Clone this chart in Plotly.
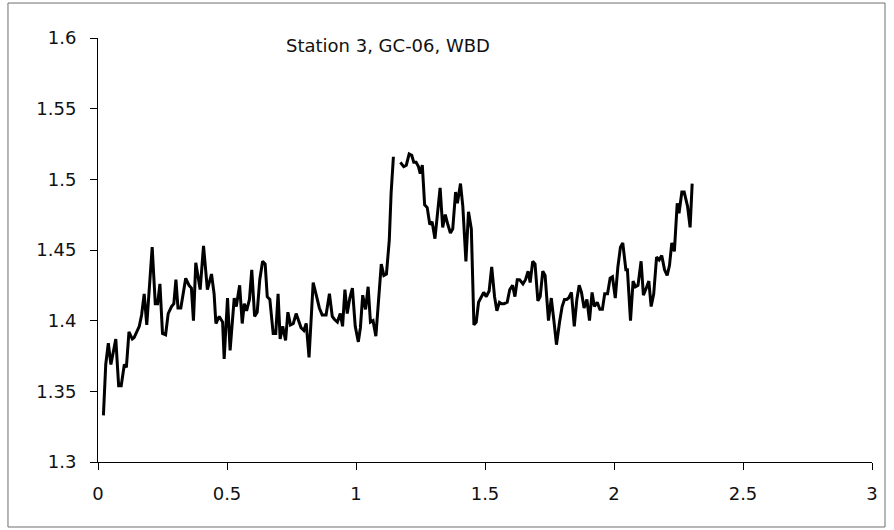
import plotly.graph_objects as go

# Station 3, core GC-06: wet bulk density profile
depth = [
    0.021, 0.030, 0.040, 0.050, 0.069, 0.080, 0.090, 0.102, 0.110, 0.120,
    0.133, 0.140, 0.160, 0.169, 0.179, 0.189, 0.210, 0.222, 0.231, 0.240,
    0.250, 0.262, 0.272, 0.285, 0.294, 0.302, 0.310, 0.321, 0.340, 0.353,
    0.362, 0.370, 0.379, 0.396, 0.409, 0.424, 0.440, 0.450, 0.457, 0.470,
    0.483, 0.489, 0.502, 0.512, 0.528, 0.536, 0.549, 0.559, 0.567, 0.576,
    0.587, 0.596, 0.607, 0.617, 0.627, 0.638, 0.648, 0.656, 0.666, 0.679,
    0.689, 0.698, 0.706, 0.716, 0.727, 0.736, 0.746, 0.757, 0.768, 0.778,
    0.787, 0.798, 0.807, 0.818, 0.834, 0.846, 0.858, 0.869, 0.884, 0.897,
    0.908, 0.916, 0.928, 0.939, 0.948, 0.957, 0.966, 0.976, 0.986, 0.997,
    1.009, 1.017, 1.026, 1.037, 1.047, 1.056, 1.066, 1.077, 1.087, 1.098,
    1.108, 1.118, 1.129, 1.136, 1.145, 1.158, 1.172, 1.185, 1.195, 1.206,
    1.216, 1.224, 1.233, 1.242, 1.249, 1.257, 1.266, 1.276, 1.286, 1.295,
    1.306, 1.315, 1.326, 1.336, 1.346, 1.356, 1.366, 1.375, 1.386, 1.393,
    1.405, 1.414, 1.426, 1.436, 1.447, 1.457, 1.466, 1.475, 1.485, 1.495,
    1.505, 1.516, 1.526, 1.537, 1.546, 1.556, 1.564, 1.574, 1.586, 1.596,
    1.607, 1.616, 1.625, 1.634, 1.647, 1.657, 1.667, 1.675, 1.685, 1.694,
    1.705, 1.714, 1.724, 1.733, 1.746, 1.757, 1.767, 1.777, 1.789, 1.799,
    1.808, 1.817, 1.824, 1.835, 1.846, 1.856, 1.865, 1.874, 1.884, 1.895,
    1.905, 1.915, 1.924, 1.935, 1.945, 1.955, 1.964, 1.975, 1.985, 1.994,
    2.005, 2.015, 2.025, 2.034, 2.046, 2.052, 2.064, 2.074, 2.083, 2.093,
    2.105, 2.114, 2.125, 2.135, 2.144, 2.154, 2.165, 2.175, 2.185, 2.196,
    2.206, 2.215, 2.224, 2.234, 2.245, 2.252, 2.263, 2.272, 2.285, 2.295,
    2.303,
]

wbd = [
    1.333, 1.369, 1.384, 1.369, 1.387, 1.354, 1.354, 1.369, 1.367, 1.392,
    1.387, 1.388, 1.396, 1.404, 1.419, 1.397, 1.452, 1.412, 1.412, 1.426,
    1.391, 1.390, 1.405, 1.410, 1.412, 1.429, 1.409, 1.409, 1.430, 1.425,
    1.423, 1.400, 1.441, 1.422, 1.453, 1.422, 1.433, 1.419, 1.398, 1.403,
    1.399, 1.373, 1.416, 1.379, 1.416, 1.410, 1.425, 1.398, 1.412, 1.407,
    1.415, 1.436, 1.403, 1.406, 1.429, 1.442, 1.440, 1.417, 1.415, 1.391,
    1.391, 1.419, 1.387, 1.396, 1.386, 1.406, 1.397, 1.398, 1.405, 1.399,
    1.395, 1.393, 1.398, 1.374, 1.427, 1.418, 1.409, 1.404, 1.404, 1.419,
    1.403, 1.401, 1.399, 1.405, 1.396, 1.422, 1.405, 1.416, 1.423, 1.396,
    1.385, 1.395, 1.418, 1.408, 1.424, 1.399, 1.400, 1.389, 1.415, 1.440,
    1.432, 1.433, 1.457, 1.490, 1.516, None, 1.512, 1.509, 1.510, 1.518,
    1.517, 1.512, 1.512, 1.509, 1.504, 1.510, 1.482, 1.480, 1.468, 1.470,
    1.458, 1.473, 1.494, 1.466, 1.475, 1.468, 1.462, 1.465, 1.491, 1.483,
    1.497, 1.481, 1.442, 1.477, 1.465, 1.397, 1.399, 1.413, 1.417, 1.420,
    1.417, 1.421, 1.438, 1.417, 1.407, 1.413, 1.412, 1.412, 1.413, 1.422,
    1.425, 1.417, 1.429, 1.429, 1.426, 1.429, 1.435, 1.427, 1.442, 1.440,
    1.414, 1.417, 1.435, 1.432, 1.400, 1.416, 1.400, 1.383, 1.399, 1.410,
    1.415, 1.415, 1.416, 1.420, 1.396, 1.415, 1.425, 1.420, 1.409, 1.415,
    1.400, 1.420, 1.410, 1.413, 1.408, 1.408, 1.419, 1.419, 1.430, 1.431,
    1.416, 1.438, 1.452, 1.455, 1.436, 1.436, 1.400, 1.428, 1.424, 1.425,
    1.442, 1.418, 1.423, 1.428, 1.410, 1.419, 1.445, 1.443, 1.446, 1.436,
    1.432, 1.439, 1.455, 1.449, 1.483, 1.476, 1.491, 1.491, 1.481, 1.466,
    1.497,
]

x_ticks = [0, 0.5, 1, 1.5, 2, 2.5, 3]
y_ticks = [1.3, 1.35, 1.4, 1.45, 1.5, 1.55, 1.6]
title_text = "Station 3, GC-06, WBD"

FONT = "DejaVu Sans, Verdana, sans-serif"
FONT_SIZE = 18

fig = go.Figure()
fig.add_trace(go.Scatter(
    x=depth, y=wbd, mode="lines",
    line=dict(color="black", width=3),
    connectgaps=False, showlegend=False,
))

axis_common = dict(
    showgrid=False, zeroline=False, showline=True,
    linecolor="black", linewidth=1,
    ticks="outside", ticklen=7, tickwidth=1, tickcolor="black",
    tickfont=dict(family=FONT, size=FONT_SIZE, color="#111111"),
)

fig.update_layout(
    width=894, height=530,
    margin=dict(l=98, r=22, t=38, b=68),
    paper_bgcolor="white", plot_bgcolor="white",
    xaxis=dict(range=[0, 3], tickvals=x_ticks,
               ticktext=[f"{v:g}" for v in x_ticks],
               ticklabelstandoff=8, **axis_common),
    yaxis=dict(range=[1.3, 1.6], tickvals=y_ticks,
               ticktext=[f"{v:g}" for v in y_ticks],
               ticklabelstandoff=10, **axis_common),
    annotations=[dict(
        text=title_text, xref="paper", yref="paper",
        x=0.375, y=0.983, xanchor="center", yanchor="middle",
        showarrow=False, font=dict(family=FONT, size=FONT_SIZE, color="#111111"),
    )],
    shapes=[dict(
        type="rect", xref="paper", yref="paper",
        x0=-0.1163, x1=1.0168, y0=-0.1533, y1=1.0825,
        line=dict(color="#6e6e6e", width=1),
    )],
)

fig.write_html("out.html")
